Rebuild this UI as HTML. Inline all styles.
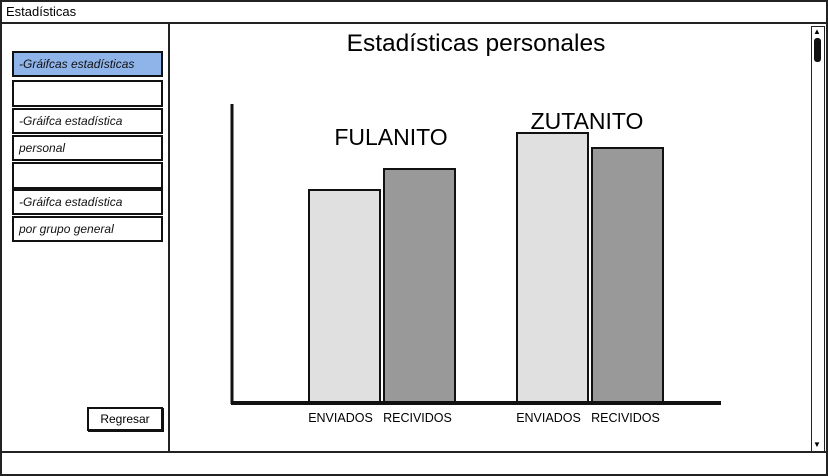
<!DOCTYPE html>
<html><head><meta charset="utf-8"><style>
*{box-sizing:border-box}
body{margin:0;width:828px;height:476px;overflow:hidden;background:#fff;font-family:"Liberation Sans",sans-serif;position:relative}
.abs{position:absolute}
.item{position:absolute;left:12px;width:151px;border:2px solid #111;background:#fff;font-style:italic;font-size:12px;padding-left:5px;display:flex;align-items:center;color:#111}
</style></head><body>
<div class="abs" style="left:0;top:0;width:828px;height:476px;border:2px solid #222"></div>
<div class="abs" style="left:6px;top:4px;font-size:13px">Estadísticas</div>
<div class="abs" style="left:0;top:22px;width:828px;height:2px;background:#222"></div>
<div class="abs" style="left:168px;top:23px;width:2px;height:430px;background:#222"></div>
<div class="abs" style="left:0;top:451px;width:828px;height:2px;background:#222"></div>
<div class="abs" style="left:811px;top:26px;width:14px;height:426px;border:1px solid #222;background:#fff"></div>
<div class="abs" style="left:814px;top:38px;width:7px;height:24px;background:#111;border-radius:3px"></div>
<div class="abs" style="left:813px;top:27px;font-size:8px">▲</div>
<div class="abs" style="left:813px;top:440px;font-size:8px">▼</div>

<div class="item" style="top:51px;height:26px;background:#8fb4ea">-Gráifcas estadísticas</div>
<div class="item" style="top:80px;height:27px"></div>
<div class="item" style="top:108px;height:26px">-Gráifca estadística</div>
<div class="item" style="top:135px;height:26px">personal</div>
<div class="item" style="top:162px;height:27px"></div>
<div class="item" style="top:189px;height:26px">-Gráifca estadística</div>
<div class="item" style="top:216px;height:26px">por grupo general</div>
<div class="abs" style="left:87px;top:407px;width:76px;height:24px;border:2px solid #111;box-shadow:1px 1px 0 #111;font-size:12px;display:flex;align-items:center;justify-content:center">Regresar</div>

<div class="abs" style="left:276px;top:30px;width:400px;text-align:center;font-size:24.5px">Estadísticas personales</div>

<svg class="abs" style="left:0;top:0" width="828" height="476">
<g id="bars"></g>
<line x1="232" y1="104" x2="232" y2="404" stroke="#111" stroke-width="3"/>
<line x1="231" y1="403" x2="721" y2="403" stroke="#111" stroke-width="4"/>
</svg>
<script>
const groups=["FULANITO","ZUTANITO"];
const enviados=[71,90];
const recividos=[78,85];
const seriesLabels=["ENVIADOS","RECIVIDOS"];
const base=403, scale=3;
function y(v){return base-v*scale;}
const groupX=[309,517];
const barW=71, gap=4;
const ns="http://www.w3.org/2000/svg";
const g=document.getElementById('bars');
groups.forEach((name,i)=>{
  [enviados,recividos].forEach((s,j)=>{
    const r=document.createElementNS(ns,'rect');
    
    
    r.setAttribute('x',groupX[i]+j*(barW+gap));
    r.setAttribute('y',y(s[i]));
    r.setAttribute('width',barW);
    r.setAttribute('height',base-y(s[i]));
    r.setAttribute('fill',j?'#999':'#e0e0e0');
    r.setAttribute('stroke','#111');r.setAttribute('stroke-width','2');
    g.appendChild(r);
    const t=document.createElementNS(ns,'text');
    
    
    t.setAttribute('x',groupX[i]+j*(barW+gap)+barW/2+(j?-2:-4));
    t.setAttribute('y',422);t.setAttribute('text-anchor','middle');
    t.setAttribute('font-size','12.5');t.setAttribute('font-family','Liberation Sans, sans-serif');
    t.textContent=seriesLabels[j];g.appendChild(t);
  });
  const top=Math.min(y(enviados[i]),y(recividos[i]));
  const l=document.createElementNS(ns,'text');
  
  
  l.setAttribute('x',groupX[i]+barW+gap/2+(i?-3:9));
  l.setAttribute('y',i?top-4:top-24);l.setAttribute('text-anchor','middle');
  l.setAttribute('font-size','23');l.setAttribute('font-family','Liberation Sans, sans-serif');
  l.textContent=name;g.appendChild(l);
});
</script>
</body></html>
